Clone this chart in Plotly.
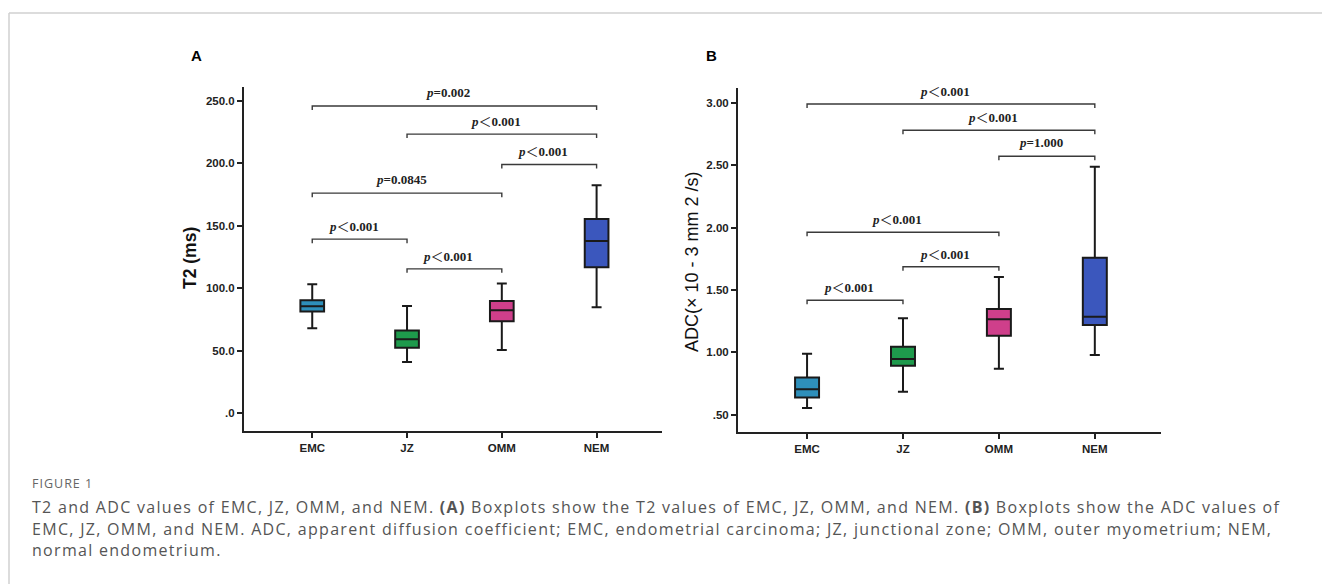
import plotly.graph_objects as go

W, H = 1322, 584

# ---------------- data ----------------
categories = ["EMC", "JZ", "OMM", "NEM"]
colors = ["#2e8fba", "#1e9a4c", "#cf3f8b", "#3b57bd"]

# T2 (ms): lower whisker, Q1, median, Q3, upper whisker
t2_lower = [67.9, 40.9, 50.5, 84.7]
t2_q1 = [81.2, 52.3, 73.5, 116.7]
t2_median = [85.5, 59.0, 82.3, 137.8]
t2_q3 = [90.3, 66.0, 89.7, 155.4]
t2_upper = [103.0, 85.7, 103.6, 182.4]

# ADC (x10^-3 mm2/s)
adc_lower = [0.556, 0.686, 0.870, 0.980]
adc_q1 = [0.640, 0.894, 1.134, 1.220]
adc_median = [0.706, 0.948, 1.266, 1.286]
adc_q3 = [0.800, 1.046, 1.348, 1.758]
adc_upper = [0.990, 1.274, 1.604, 2.486]

# pairwise comparisons: (from, to)
t2_pairs = [("EMC", "NEM"), ("JZ", "NEM"), ("OMM", "NEM"), ("EMC", "OMM"), ("EMC", "JZ"), ("JZ", "OMM")]
t2_heights = [245.8, 223.3, 199.0, 176.0, 139.2, 115.4]
t2_labels = ["=0.002", "<0.001", "<0.001", "=0.0845", "<0.001", "<0.001"]

adc_pairs = [("EMC", "NEM"), ("JZ", "NEM"), ("OMM", "NEM"), ("EMC", "OMM"), ("JZ", "OMM"), ("EMC", "JZ")]
adc_heights = [2.988, 2.778, 2.570, 1.962, 1.686, 1.418]
adc_labels = ["<0.001", "<0.001", "=1.000", "<0.001", "<0.001", "<0.001"]

t2_ticks = [0, 50, 100, 150, 200, 250]
t2_ticktext = [".0", "50.0", "100.0", "150.0", "200.0", "250.0"]
adc_ticks = [0.5, 1.0, 1.5, 2.0, 2.5, 3.0]
adc_ticktext = [".50", "1.00", "1.50", "2.00", "2.50", "3.00"]

caption_head = "FIGURE 1"
caption_lines = [
    "T2 and ADC values of EMC, JZ, OMM, and NEM. <b>(A)</b> Boxplots show the T2 values of EMC, JZ, OMM, and NEM. <b>(B)</b> Boxplots show the ADC values of",
    "EMC, JZ, OMM, and NEM. ADC, apparent diffusion coefficient; EMC, endometrial carcinoma; JZ, junctional zone; OMM, outer myometrium; NEM,",
    "normal endometrium.",
]

# ---------------- layout helpers ----------------
def px(x):
    return x / W

def py(y):
    return 1 - y / H

AXCOL = "#222222"
tickfont = dict(family="Liberation Sans", size=11.5, color=AXCOL, weight="bold")

fig = go.Figure()


def add_panel(xa, ya, lower, q1, med, q3, upper, pairs, heights, labels, tick_d):
    for i, c in enumerate(categories):
        fig.add_trace(go.Box(
            x=[c], q1=[q1[i]], median=[med[i]], q3=[q3[i]],
            lowerfence=[lower[i]], upperfence=[upper[i]],
            fillcolor=colors[i], line=dict(color="#1a1a1a", width=2),
            width=0.25, whiskerwidth=0.42, boxpoints=False,
            xaxis=xa, yaxis=ya, showlegend=False, hoverinfo="skip",
        ))
    for (a, b), hgt, lab in zip(pairs, heights, labels):
        i0, i1 = categories.index(a), categories.index(b)
        fig.add_trace(go.Scatter(
            x=[a, a, b, b], y=[hgt - tick_d, hgt, hgt, hgt - tick_d],
            mode="lines", line=dict(color="#3a3a3a", width=1.4),
            xaxis=xa, yaxis=ya, showlegend=False, hoverinfo="skip",
        ))
        sym = lab[0]
        rest = lab[1:]
        if sym == "<":
            txt = ("<b><i>p</i></b><span style='font-family:Noto Sans CJK SC;font-weight:normal'>＜</span><b>"
                   + rest + "</b>")
        else:
            txt = "<b><i>p</i>=" + rest + "</b>"
        fig.add_annotation(
            x=(i0 + i1) / 2, y=hgt, xref=xa, yref=ya,
            text=txt, showarrow=False, yanchor="middle", xanchor="center",
            yshift=13.5, xshift=-6,
            font=dict(family="Liberation Serif", size=13, color="#222"),
        )


add_panel("x", "y", t2_lower, t2_q1, t2_median, t2_q3, t2_upper,
          t2_pairs, t2_heights, t2_labels, 3.2)
add_panel("x2", "y2", adc_lower, adc_q1, adc_median, adc_q3, adc_upper,
          adc_pairs, adc_heights, adc_labels, 0.032)

common_x = dict(
    type="category", categoryorder="array", categoryarray=categories,
    range=[-0.72, 3.69], showline=True, linecolor=AXCOL, linewidth=2,
    ticks="outside", ticklen=5, tickwidth=1.5, tickcolor=AXCOL,
    tickfont=tickfont, showgrid=False, zeroline=False, fixedrange=True,
)
common_y = dict(
    showline=True, linecolor=AXCOL, linewidth=2,
    ticks="outside", ticklen=5, tickwidth=1.5, tickcolor=AXCOL,
    tickfont=tickfont, showgrid=False, zeroline=False, fixedrange=True,
)

fig.update_layout(
    width=W, height=H,
    margin=dict(l=0, r=0, t=0, b=0),
    paper_bgcolor="white", plot_bgcolor="white",
    xaxis=dict(domain=[px(244), px(662)], anchor="y", **common_x),
    yaxis=dict(domain=[py(431), py(87)], anchor="x", range=[-14.4, 261],
               tickmode="array", tickvals=t2_ticks, ticktext=t2_ticktext, **common_y),
    xaxis2=dict(domain=[px(738), px(1161)], anchor="y2", **common_x),
    yaxis2=dict(domain=[py(432.3), py(88.3)], anchor="x2", range=[0.361, 3.114],
                tickmode="array", tickvals=adc_ticks, ticktext=adc_ticktext, **common_y),
    boxmode="overlay",
)

# axis titles & panel letters
fig.add_annotation(x=px(190), y=py(258), xref="paper", yref="paper", text="<b>T2 (ms)</b>",
                   textangle=-90, showarrow=False, xanchor="center", yanchor="middle",
                   font=dict(family="Liberation Sans", size=17.5, color="#111"))
fig.add_annotation(x=px(692), y=py(262), xref="paper", yref="paper",
                   text="ADC(× 10 - 3 mm 2 /s)", textangle=-90, showarrow=False,
                   xanchor="center", yanchor="middle",
                   font=dict(family="Liberation Sans", size=18, color="#111"))
fig.add_annotation(x=px(196), y=py(56), xref="paper", yref="paper", text="<b>A</b>",
                   showarrow=False, xanchor="center", yanchor="middle",
                   font=dict(family="Liberation Sans", size=15, color="#000"))
fig.add_annotation(x=px(711), y=py(56), xref="paper", yref="paper", text="<b>B</b>",
                   showarrow=False, xanchor="center", yanchor="middle",
                   font=dict(family="Liberation Sans", size=15, color="#000"))

# caption
fig.add_annotation(x=px(30), y=py(483), xref="paper", yref="paper",
                   text="<span style='letter-spacing:1px'>" + caption_head + "</span>",
                   xanchor="left", yanchor="middle", showarrow=False,
                   font=dict(family="Open Sans", size=12.5, color="#666"))
for k, line in enumerate(caption_lines):
    fig.add_annotation(x=px(30), y=py(507 + 21.5 * k), xref="paper", yref="paper",
                       text="<span style='letter-spacing:1.3px'>" + line + "</span>",
                       xanchor="left", yanchor="middle", showarrow=False,
                       font=dict(family="Open Sans", size=16, color="#555"))

# frame lines
fig.add_shape(type="line", xref="paper", yref="paper", x0=px(9), x1=1, y0=py(13), y1=py(13),
              line=dict(color="#d0d0d0", width=1.5))
fig.add_shape(type="line", xref="paper", yref="paper", x0=px(9), x1=px(9), y0=py(13), y1=0,
              line=dict(color="#d0d0d0", width=1.5))

fig.write_html("out.html")
